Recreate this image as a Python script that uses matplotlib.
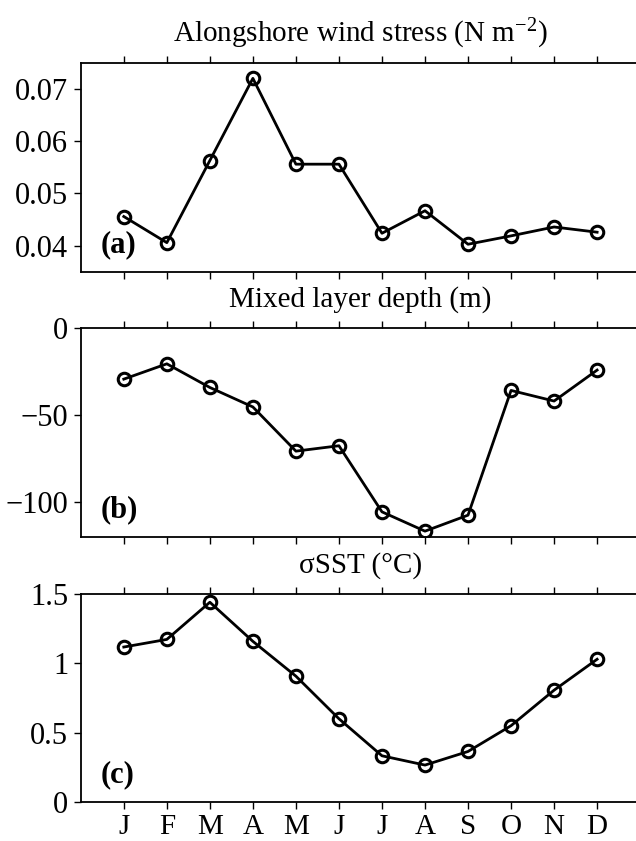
import matplotlib
matplotlib.use('Agg')
from matplotlib import pyplot as plt
from matplotlib.ticker import FuncFormatter

months = ['J', 'F', 'M', 'A', 'M', 'J', 'J', 'A', 'S', 'O', 'N', 'D']
wind_stress = [0.0456, 0.0406, 0.0563, 0.0720, 0.0556, 0.0556,
               0.0424, 0.0467, 0.0403, 0.0419, 0.0436, 0.0426]
mld = [-29.4, -20.6, -34.2, -45.4, -70.8, -67.7,
       -105.7, -116.8, -107.6, -35.9, -42.0, -24.2]
sst_std = [1.117, 1.172, 1.440, 1.158, 0.907, 0.600,
           0.333, 0.266, 0.364, 0.550, 0.806, 1.029]

plt.rcParams['font.family'] = ['Liberation Serif', 'DejaVu Serif']
plt.rcParams['mathtext.fontset'] = 'custom'
plt.rcParams['mathtext.rm'] = 'Liberation Serif'
plt.rcParams['mathtext.it'] = 'Liberation Serif:italic'

fig = plt.figure(figsize=(6.36, 8.41), dpi=100)

# tick labels like 0.07, 1, -50 with a real minus sign
fmt = FuncFormatter(lambda v, p: ('%g' % v).replace('-', '\u2212'))

x = list(range(1, 13))
panels = [
    (wind_stress, 'Alongshore wind stress (N m$^{\u22122}$)', (0.035, 0.075),
     [0.04, 0.05, 0.06, 0.07], '(a)', [0.6766, 0.2489]),
    (mld, 'Mixed layer depth (m)', (-120, 0),
     [-100, -50, 0], '(b)', [0.3618, 0.2482]),
    (sst_std, '\u03c3SST (\u00b0C)', (0, 1.5),
     [0, 0.5, 1, 1.5], '(c)', [0.0464, 0.2474]),
]

for i, (vals, title, ylim, yticks, lab, pos) in enumerate(panels):
    ax = fig.add_axes([0.127, pos[0], 0.8795, pos[1]])
    ax.plot(x, vals, color='black', lw=2.0, marker='o', ms=9,
            mfc='none', mec='black', mew=2.2)
    ax.set_xlim(0, 13)
    ax.set_ylim(*ylim)
    ax.set_yticks(yticks)
    ax.yaxis.set_major_formatter(fmt)
    ax.set_xticks(x)
    if i == 2:
        ax.set_xticklabels(months, fontsize=21)
    else:
        ax.set_xticklabels([])
    ax.tick_params(axis='x', direction='out', top=True, length=5, width=1, pad=4)
    ax.tick_params(axis='y', direction='out', length=5, width=1, labelsize=22, pad=4)
    ax.spines['right'].set_visible(False)
    for s in ['left', 'top', 'bottom']:
        ax.spines[s].set_linewidth(1.3)
    ax.set_title(title, fontsize=21, pad=15)
    ax.text(0.035, 0.13, lab, transform=ax.transAxes, fontsize=22,
            fontweight='bold', ha='left', va='center')

plt.savefig('out.png', dpi=100)
